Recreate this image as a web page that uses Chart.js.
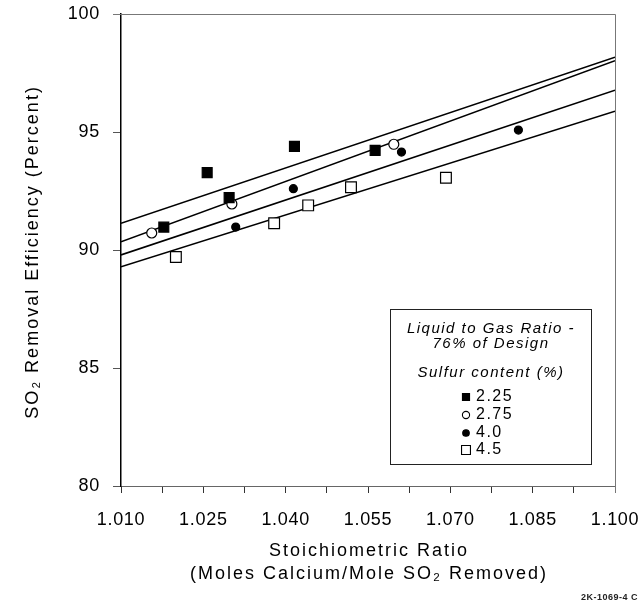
<!DOCTYPE html>
<html>
<head>
<meta charset="utf-8">
<script src="https://cdn.jsdelivr.net/npm/chart.js@4"></script>
<style>
  html, body { margin: 0; padding: 0; background: #fff; }
</style>
</head>
<body>
<canvas id="so2-chart" width="641" height="607"></canvas>
<script>
// sulfur content series (legend order)
const sulfurLabels = ['2.25', '2.75', '4.0', '4.5'];

// measured points: stoichiometric ratio vs SO2 removal efficiency
const ratio225 = [1.0178, 1.0257, 1.0297, 1.0416, 1.0563];
const eff225 = [90.97, 93.28, 92.22, 94.39, 94.22];

const ratio275 = [1.0156, 1.0302, 1.0597];
const eff275 = [90.72, 91.95, 94.48];

const ratio40 = [1.0309, 1.0414, 1.0611, 1.0824];
const eff40 = [90.97, 92.60, 94.15, 95.08];

const ratio45 = [1.0200, 1.0379, 1.0441, 1.0519, 1.0692];
const eff45 = [89.70, 91.13, 91.89, 92.66, 93.06];

// fitted lines, end points at the axis limits
const fitRatio = [1.010, 1.100];
const fit225 = [91.13, 98.17];
const fit275 = [90.35, 98.02];
const fit40 = [89.79, 96.77];
const fit45 = [89.29, 95.88];

const xTicks = { min: 1.010, max: 1.100, step: 0.0075 };
const yTicks = { min: 80, max: 100, step: 5 };

const pairs = (xs, ys) => xs.map((x, i) => ({ x: x, y: ys[i] }));

const FONT = 'Arial, "Liberation Sans", sans-serif';

function markerSet(label, xs, ys, style, radius, fill) {
    return {
        type: 'scatter',
        label: label,
        data: pairs(xs, ys),
        pointStyle: style,
        pointRadius: radius,
        pointHoverRadius: radius,
        pointBackgroundColor: fill,
        pointBorderColor: '#000',
        pointBorderWidth: 1.2,
        order: 0
    };
}

function fitLine(ys) {
    return {
        type: 'line',
        data: pairs(fitRatio, ys),
        borderColor: '#000',
        borderWidth: 1.6,
        pointRadius: 0,
        fill: false,
        order: 10
    };
}

const legendMarks = [
    { style: 'rect', radius: 5, fill: '#000' },
    { style: 'circle', radius: 3.6, fill: '#fff' },
    { style: 'circle', radius: 3.3, fill: '#000' },
    { style: 'rect', radius: 6.3, fill: '#fff' }
];

const framePlugin = {
    id: 'frame',
    beforeDraw(chart) {
        // tick labels in the original are slightly spaced out
        chart.ctx.letterSpacing = '0.7px';
    },
    afterDraw(chart) {
        const ctx = chart.ctx;
        const area = chart.chartArea;
        ctx.save();

        // top and right border
        ctx.strokeStyle = '#777';
        ctx.lineWidth = 1;
        ctx.beginPath();
        ctx.moveTo(area.left - 8, area.top + 0.5);
        ctx.lineTo(area.right + 0.5, area.top + 0.5);
        ctx.lineTo(area.right + 0.5, area.bottom + 7);
        ctx.stroke();

        ctx.fillStyle = '#000';
        ctx.textAlign = 'center';
        ctx.textBaseline = 'middle';

        // x axis title
        ctx.letterSpacing = '2px';
        ctx.font = '18px ' + FONT;
        ctx.fillText('Stoichiometric Ratio', 369, 551);
        ctx.fillText('(Moles Calcium/Mole SO\u2082 Removed)', 369, 574);

        // y axis title
        ctx.save();
        ctx.translate(33, 252);
        ctx.rotate(-Math.PI / 2);
        ctx.fillText('SO\u2082 Removal Efficiency (Percent)', 0, 0);
        ctx.restore();

        // legend box
        ctx.letterSpacing = '1.5px';
        ctx.strokeStyle = '#222';
        ctx.strokeRect(390.5, 309.5, 201, 155);
        ctx.font = 'italic 15px ' + FONT;
        ctx.fillText('Liquid to Gas Ratio -', 491, 329);
        ctx.fillText('76% of Design', 491, 344);
        ctx.fillText('Sulfur content (%)', 491, 373);

        ctx.font = '16px ' + FONT;
        ctx.textAlign = 'left';
        const rowY = [397, 415, 433, 450];
        sulfurLabels.forEach((lab, i) => {
            const m = legendMarks[i];
            ctx.fillStyle = m.fill;
            ctx.strokeStyle = '#000';
            ctx.lineWidth = 1.1;
            Chart.helpers.drawPoint(ctx, { pointStyle: m.style, radius: m.radius, borderWidth: 1.1 }, 466, rowY[i]);
            ctx.fillStyle = '#000';
            ctx.fillText(lab, 476, rowY[i]);
        });

        // drawing number
        ctx.letterSpacing = '0.5px';
        ctx.font = 'bold 9px ' + FONT;
        ctx.textAlign = 'right';
        ctx.fillStyle = '#222';
        ctx.fillText('2K-1069-4 C', 638, 598);

        ctx.restore();
    }
};

new Chart(document.getElementById('so2-chart'), {
    data: {
        datasets: [
            markerSet(sulfurLabels[0], ratio225, eff225, 'rect', 7, '#000'),
            markerSet(sulfurLabels[1], ratio275, eff275, 'circle', 5, '#fff'),
            markerSet(sulfurLabels[2], ratio40, eff40, 'circle', 4, '#000'),
            markerSet(sulfurLabels[3], ratio45, eff45, 'rect', 7.6, '#fff'),
            fitLine(fit225),
            fitLine(fit275),
            fitLine(fit40),
            fitLine(fit45)
        ]
    },
    options: {
        responsive: false,
        animation: false,
        layout: { padding: { top: 14, right: 26, left: 0, bottom: 0 } },
        plugins: {
            legend: { display: false },
            tooltip: { enabled: false }
        },
        scales: {
            x: {
                type: 'linear',
                min: xTicks.min,
                max: xTicks.max,
                afterFit: (scale) => {
                    scale.height = 121;
                    scale.paddingLeft = 0;
                    scale.paddingRight = 0;
                },
                border: { color: '#666', width: 1 },
                grid: { drawOnChartArea: false, tickLength: 7, color: '#333' },
                ticks: {
                    stepSize: xTicks.step,
                    autoSkip: false,
                    maxRotation: 0,
                    padding: 16,
                    color: '#000',
                    font: { family: FONT, size: 18 },
                    callback: (v, i) => (i % 2 === 0 ? v.toFixed(3) : '')
                }
            },
            y: {
                min: yTicks.min,
                max: yTicks.max,
                afterFit: (scale) => {
                    scale.width = 121;
                    scale.paddingTop = 0;
                    scale.paddingBottom = 0;
                },
                border: { color: '#000', width: 1.5 },
                grid: { drawOnChartArea: false, tickLength: 8, color: '#555' },
                ticks: {
                    stepSize: yTicks.step,
                    padding: 13,
                    color: '#000',
                    font: { family: FONT, size: 18 }
                }
            }
        }
    },
    plugins: [framePlugin]
});
</script>
</body>
</html>
